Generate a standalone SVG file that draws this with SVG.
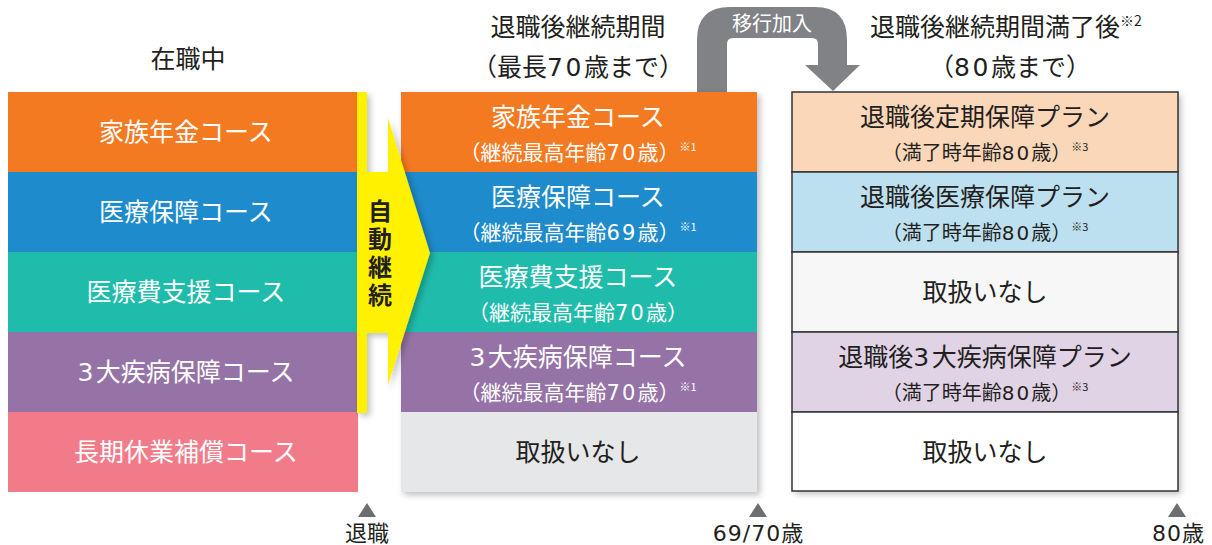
<svg xmlns="http://www.w3.org/2000/svg" width="1212" height="545" viewBox="0 0 1212 545">
<defs>
<style>
text{font-family:"Noto Sans CJK JP","Noto Sans",sans-serif;}
.n{font-family:"DejaVu Sans","Noto Sans",sans-serif;letter-spacing:0.1em;}
.w{fill:#ffffff;font-size:25px;text-anchor:middle;}
.ws{fill:#ffffff;font-size:21px;text-anchor:middle;}
.d{fill:#231f20;font-size:25px;text-anchor:middle;}
.ds{fill:#231f20;font-size:20px;text-anchor:middle;}
.h{fill:#231f20;font-size:25px;text-anchor:middle;}
.sup{font-size:11px;}
.b{fill:#231f20;font-size:22px;text-anchor:middle;}
.row{stroke:#333;stroke-width:1.5;}
.tri{fill:#6d6e71;}
</style>
<filter id="sh" x="-5%" y="-5%" width="115%" height="115%">
<feDropShadow dx="3" dy="3" stdDeviation="3" flood-color="#000" flood-opacity="0.25"/>
</filter>
</defs>

<g id="headers">
<text class="h" x="188" y="68">在職中</text>
<text class="h" x="578" y="36">退職後継続期間</text>
<text class="h" x="578" y="76">（最長<tspan class="n">70</tspan>歳まで）</text>
<text class="h" x="1006" y="36">退職後継続期間満了後<tspan font-size="14" dy="-10">※2</tspan></text>
<text class="h" x="1010" y="76">（<tspan class="n">80</tspan>歳まで）</text>
</g>

<g id="connectors">
<path d="M697,92 V40 Q697,7 730,7 H815 Q847,7 847,40 V65 H860 L833,91 L805,65 H818 V44 Q818,38 812,38 H733 Q727,38 727,44 V92 Z" fill="#808285"/>
<text x="772" y="31" fill="#ffffff" font-size="20" text-anchor="middle">移行加入</text>
</g>

<g id="col-left">
<g id="l1"><rect x="8" y="92" width="350" height="80" fill="#f47a22"/><text class="w" x="186" y="141">家族年金コース</text></g>
<g id="l2"><rect x="8" y="172" width="350" height="80" fill="#1e8bcc"/><text class="w" x="186" y="221">医療保障コース</text></g>
<g id="l3"><rect x="8" y="252" width="350" height="80" fill="#1fbcab"/><text class="w" x="186" y="301">医療費支援コース</text></g>
<g id="l4"><rect x="8" y="332" width="350" height="80" fill="#9673a6"/><text class="w" x="186" y="381"><tspan class="n">3</tspan>大疾病保障コース</text></g>
<g id="l5"><rect x="8" y="412" width="350" height="80" fill="#f27b8a"/><text class="w" x="186" y="461">長期休業補償コース</text></g>
</g>

<g id="col-mid">
<g filter="url(#sh)"><rect x="401" y="92" width="356" height="400" fill="#e6e7e8"/></g>
<g id="m1"><rect x="401" y="92" width="356" height="80" fill="#f47a22"/><text class="w" x="578" y="126">家族年金コース</text><text class="ws" x="578" y="160">（継続最高年齢<tspan class="n">70</tspan>歳）<tspan class="sup" dy="-9">※1</tspan></text></g>
<g id="m2"><rect x="401" y="172" width="356" height="80" fill="#1e8bcc"/><text class="w" x="578" y="206">医療保障コース</text><text class="ws" x="578" y="240">（継続最高年齢<tspan class="n">69</tspan>歳）<tspan class="sup" dy="-9">※1</tspan></text></g>
<g id="m3"><rect x="401" y="252" width="356" height="80" fill="#1fbcab"/><text class="w" x="578" y="286">医療費支援コース</text><text class="ws" x="578" y="320">（継続最高年齢<tspan class="n">70</tspan>歳）</text></g>
<g id="m4"><rect x="401" y="332" width="356" height="80" fill="#9673a6"/><text class="w" x="578" y="366"><tspan class="n">3</tspan>大疾病保障コース</text><text class="ws" x="578" y="400">（継続最高年齢<tspan class="n">70</tspan>歳）<tspan class="sup" dy="-9">※1</tspan></text></g>
<g id="m5"><rect x="401" y="412" width="356" height="80" fill="#e6e7e8"/><text class="d" x="578" y="461">取扱いなし</text></g>
</g>

<g id="col-right">
<g filter="url(#sh)"><rect x="792" y="92" width="386" height="399" fill="#ffffff"/></g>
<g id="r1"><rect class="row" x="792" y="92" width="386" height="80" fill="#fbd7b9"/><text class="d" x="985" y="126">退職後定期保障プラン</text><text class="ds" x="985" y="160">（満了時年齢<tspan class="n">80</tspan>歳）<tspan class="sup" dy="-9">※3</tspan></text></g>
<g id="r2"><rect class="row" x="792" y="172" width="386" height="80" fill="#bde0f0"/><text class="d" x="985" y="206">退職後医療保障プラン</text><text class="ds" x="985" y="240">（満了時年齢<tspan class="n">80</tspan>歳）<tspan class="sup" dy="-9">※3</tspan></text></g>
<g id="r3"><rect class="row" x="792" y="252" width="386" height="80" fill="#f7f7f7"/><text class="d" x="985" y="301">取扱いなし</text></g>
<g id="r4"><rect class="row" x="792" y="332" width="386" height="80" fill="#e1d3e6"/><text class="d" x="985" y="366">退職後<tspan class="n">3</tspan>大疾病保障プラン</text><text class="ds" x="985" y="400">（満了時年齢<tspan class="n">80</tspan>歳）<tspan class="sup" dy="-9">※3</tspan></text></g>
<g id="r5"><rect class="row" x="792" y="412" width="386" height="79" fill="#ffffff"/><text class="d" x="985" y="461">取扱いなし</text></g>
</g>

<g id="auto-arrow">
<path d="M357,92 H367 V172 H388 V118 L430,253 L388,385 V333 H367 V413 H357 Z" fill="#fff100" filter="url(#sh)"/>
<text x="380" y="199" writing-mode="vertical-rl" fill="#231f20" font-size="24" font-weight="bold" letter-spacing="4">自動継続</text>
</g>

<g id="timeline">
<path class="tri" d="M358,517 L367,503 L376,517 Z"/>
<text class="b" x="367" y="541">退職</text>
<path class="tri" d="M749,517 L758,503 L767,517 Z"/>
<text class="b" x="758" y="541"><tspan font-family="DejaVu Sans" letter-spacing="1">69/70</tspan>歳</text>
<path class="tri" d="M1168,517 L1177,503 L1186,517 Z"/>
<text class="b" x="1178" y="541"><tspan font-family="DejaVu Sans" letter-spacing="1">80</tspan>歳</text>
</g>
</svg>
